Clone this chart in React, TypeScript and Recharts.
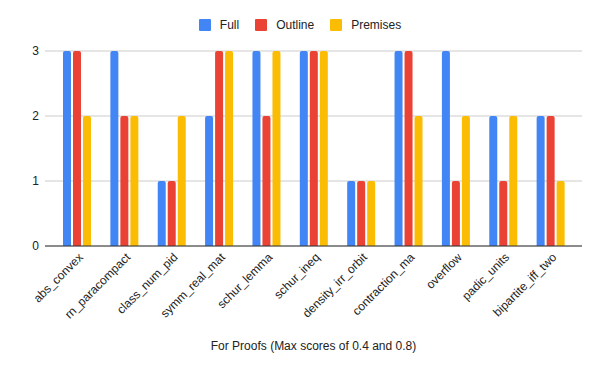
import React from "react";
import { BarChart, Bar, XAxis, YAxis, CartesianGrid, Label } from "recharts";

const categories = [
  "abs_convex",
  "rn_paracompact",
  "class_num_pid",
  "symm_real_mat",
  "schur_lemma",
  "schur_ineq",
  "density_irr_orbit",
  "contraction_ma",
  "overflow",
  "padic_units",
  "bipartite_iff_two",
];
const fullValues = [3, 3, 1, 2, 3, 3, 1, 3, 3, 2, 2];
const outlineValues = [3, 2, 1, 3, 2, 3, 1, 3, 1, 1, 2];
const premisesValues = [2, 2, 2, 3, 3, 3, 1, 2, 2, 2, 1];
const yTicks = [0, 1, 2, 3];
const xTitle = "For Proofs (Max scores of 0.4 and 0.8)";

const series = [
  { key: "Full", color: "#4285F4" },
  { key: "Outline", color: "#EA4335" },
  { key: "Premises", color: "#FBBC04" },
];

const data = categories.map((name, i) => ({
  name,
  Full: fullValues[i],
  Outline: outlineValues[i],
  Premises: premisesValues[i],
}));

const FONT = "Arial, 'Liberation Sans', sans-serif";

const XTick = (props: any) => {
  const { x, y, payload } = props;
  return (
    <g transform={`translate(${x + 7},${y + 12})`}>
      <text
        textAnchor="end"
        transform="rotate(-45)"
        fontSize={12}
        fontFamily={FONT}
        fill="#222"
      >
        {payload.value}
      </text>
    </g>
  );
};

export default function App() {
  return (
    <div style={{ position: "absolute", left: 0, top: 0, width: 600, height: 371, background: "#fff" }}>
      <div
        style={{
          position: "absolute",
          left: 0,
          top: 17,
          width: 600,
          display: "flex",
          justifyContent: "center",
          gap: 16,
          fontFamily: FONT,
          fontSize: 12,
          color: "#222",
          lineHeight: "16px",
        }}
      >
        {series.map((s) => (
          <div key={s.key} style={{ display: "flex", alignItems: "center" }}>
            <div style={{ width: 12, height: 12, background: s.color, borderRadius: 1, marginRight: 9 }} />
            <span>{s.key}</span>
          </div>
        ))}
      </div>
      <BarChart
        width={600}
        height={371}
        data={data}
        margin={{ top: 51, right: 18, left: 0, bottom: 0 }}
        barSize={8}
        barGap={2}
        style={{ fontFamily: FONT }}
      >
        <CartesianGrid vertical={false} stroke="#cccccc" />
        <XAxis
          dataKey="name"
          height={125}
          interval={0}
          tickLine={false}
          tickSize={0}
          tickMargin={0}
          axisLine={{ stroke: "#333333" }}
          padding={{ left: 8, right: 8 }}
          tick={<XTick />}
        >
          <Label
            value={xTitle}
            position="insideBottom"
            offset={21}
            style={{ fontSize: 12, fill: "#222", fontFamily: FONT }}
          />
        </XAxis>
        <YAxis
          width={45}
          domain={[0, 3]}
          ticks={yTicks}
          axisLine={false}
          tickLine={false}
          tickSize={0}
          tickMargin={6}
          tick={{ fontSize: 12, fill: "#222", fontFamily: FONT }}
        />
        {series.map((s) => (
          <Bar key={s.key} dataKey={s.key} fill={s.color} radius={[2, 2, 0, 0]} isAnimationActive={false} />
        ))}
      </BarChart>
    </div>
  );
}
